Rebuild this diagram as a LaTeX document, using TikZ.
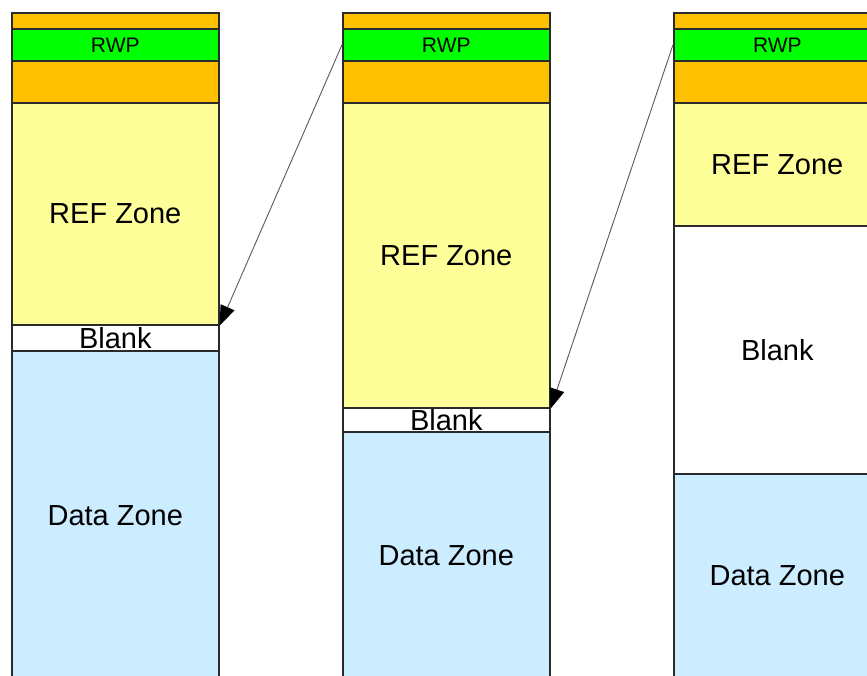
\documentclass[tikz,border=0pt]{standalone}
\usepackage{fontspec}
\setmainfont{Liberation Sans}
\usetikzlibrary{arrows.meta}
\definecolor{bandorange}{HTML}{FFC000}
\definecolor{bandgreen}{HTML}{00FF00}
\definecolor{bandyellow}{HTML}{FFFF99}
\definecolor{bandblue}{HTML}{CCECFF}
\definecolor{edgegray}{HTML}{2A2A2A}
\begin{document}
\begin{tikzpicture}[x=1pt,y=-1pt,
  band/.style={draw=edgegray, line width=1.6pt, rectangle, inner sep=0pt, anchor=north west,
    minimum width=207pt, text=black, font=\fontsize{29}{32}\selectfont},
  rwp/.style={band, fill=bandgreen, minimum height=32pt, font=\fontsize{21}{24}\selectfont},
  orng/.style={band, fill=bandorange},
  refz/.style={band, fill=bandyellow},
  blankz/.style={band, fill=white},
  dataz/.style={band, fill=bandblue},
  link/.style={draw=black!65, line width=0.9pt,
    -{Triangle[length=20pt,width=15pt,color=black,fill=black]}}
]
\useasboundingbox (0,0) rectangle (867,675);
\clip (0,0) rectangle (867,675);
% column 1
\node[orng, minimum height=16pt] (a1) at (11,12) {};
\node[rwp] (a2) at (11,28) {RWP};
\node[orng, minimum height=42pt] (a3) at (11,60) {};
\node[refz, minimum height=222pt] (a4) at (11,102) {REF Zone};
\node[blankz, minimum height=26pt] (a5) at (11,324) {Blank};
\node[dataz, minimum height=330pt] (a6) at (11,350) {Data Zone};
% column 2
\node[orng, minimum height=16pt] (b1) at (342,12) {};
\node[rwp] (b2) at (342,28) {RWP};
\node[orng, minimum height=42pt] (b3) at (342,60) {};
\node[refz, minimum height=305pt] (b4) at (342,102) {REF Zone};
\node[blankz, minimum height=24pt] (b5) at (342,407) {Blank};
\node[dataz, minimum height=248pt] (b6) at (342,431) {Data Zone};
% column 3
\node[orng, minimum height=16pt] (c1) at (673,12) {};
\node[rwp] (c2) at (673,28) {RWP};
\node[orng, minimum height=42pt] (c3) at (673,60) {};
\node[refz, minimum height=123pt] (c4) at (673,102) {REF Zone};
\node[blankz, minimum height=248pt] (c5) at (673,225) {Blank};
\node[dataz, minimum height=204pt] (c6) at (673,473) {Data Zone};
% connectors
\draw[link] (b2.west) -- (a4.south east);
\draw[link] (c2.west) -- (b4.south east);
\end{tikzpicture}
\end{document}
